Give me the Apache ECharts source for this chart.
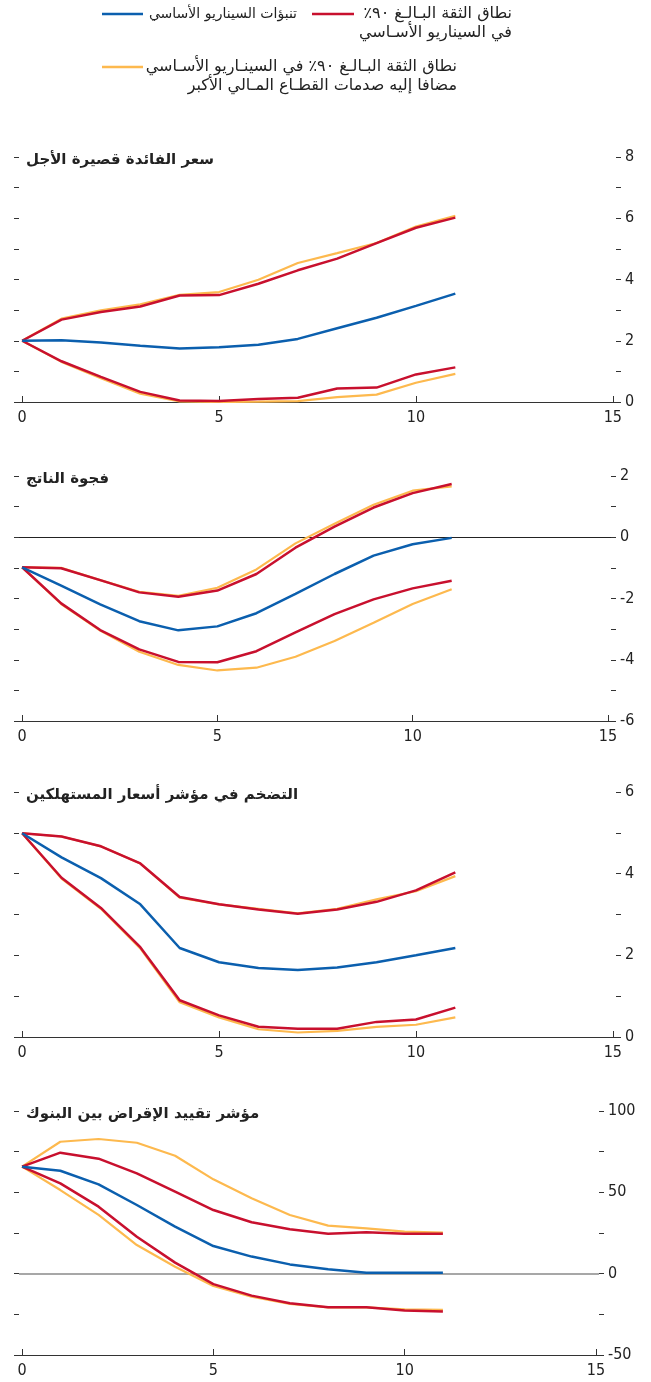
<!DOCTYPE html>
<html><head><meta charset="utf-8">
<script src="https://cdn.jsdelivr.net/npm/echarts@6/dist/echarts.min.js"></script>
<style>html,body{margin:0;padding:0;background:#fff}#c{width:651px;height:1382px}</style>
</head><body><div id="c"></div>
<script>
const steps = [0,1,2,3,4,5,6,7,8,9,10,11];
const xTickLabels = [0,5,10,15];

const panelTitles = ['سعر الفائدة قصيرة الأجل','فجوة الناتج','التضخم في مؤشر أسعار المستهلكين','مؤشر تقييد الإقراض بين البنوك'];
const legendBase = 'تنبؤات السيناريو الأساسي';
const legendBand = ['\u200Fنطاق الثقة البـالـغ ٩٠٪\u200F','في السيناريو الأسـاسي'];
const legendShock = ['\u200Fنطاق الثقة البـالـغ ٩٠٪ في السينـاريو الأسـاسي','مضافا إليه صدمات القطـاع المـالي الأكبر'];

const rateBase   = [2.0, 2.02, 1.94, 1.84, 1.75, 1.79, 1.87, 2.06, 2.41, 2.75, 3.14, 3.54];
const rateBandHi = [2.0, 2.69, 2.94, 3.12, 3.48, 3.49, 3.86, 4.30, 4.68, 5.19, 5.69, 6.02];
const rateShockHi= [2.0, 2.72, 2.99, 3.19, 3.50, 3.59, 3.99, 4.54, 4.86, 5.19, 5.73, 6.08];
const rateBandLo = [2.0, 1.33, 0.82, 0.33, 0.05, 0.03, 0.10, 0.14, 0.44, 0.47, 0.90, 1.13];
const rateShockLo= [2.0, 1.31, 0.78, 0.27, 0.02, 0.00, 0.01, 0.03, 0.16, 0.24, 0.63, 0.92];

const gapBase   = [-0.98, -1.58, -2.19, -2.74, -3.04, -2.91, -2.48, -1.85, -1.20, -0.60, -0.23, -0.02];
const gapBandHi = [-0.98, -1.01, -1.40, -1.80, -1.94, -1.74, -1.20, -0.34, 0.35, 0.97, 1.44, 1.74];
const gapShockHi= [-0.98, -1.00, -1.40, -1.78, -1.91, -1.65, -1.05, -0.20, 0.44, 1.06, 1.52, 1.66];
const gapBandLo = [-0.98, -2.16, -3.03, -3.66, -4.07, -4.08, -3.72, -3.11, -2.51, -2.03, -1.67, -1.42];
const gapShockLo= [-0.98, -2.18, -3.05, -3.74, -4.17, -4.35, -4.26, -3.90, -3.39, -2.79, -2.18, -1.70];

const cpiBase   = [4.99, 4.40, 3.89, 3.25, 2.18, 1.83, 1.69, 1.64, 1.70, 1.83, 2.00, 2.18];
const cpiBandHi = [4.99, 4.91, 4.67, 4.25, 3.43, 3.25, 3.12, 3.02, 3.12, 3.31, 3.59, 4.03];
const cpiShockHi= [4.99, 4.91, 4.67, 4.25, 3.41, 3.25, 3.14, 3.03, 3.14, 3.37, 3.57, 3.94];
const cpiBandLo = [4.99, 3.90, 3.16, 2.20, 0.90, 0.53, 0.25, 0.20, 0.20, 0.37, 0.43, 0.72];
const cpiShockLo= [4.99, 3.88, 3.14, 2.17, 0.85, 0.48, 0.19, 0.11, 0.15, 0.25, 0.30, 0.48];

const lendBase   = [65.8, 63.3, 54.9, 42.2, 28.9, 17.0, 10.5, 5.7, 2.7, 0.6, 0.6, 0.6];
const lendBandHi = [65.8, 74.4, 70.7, 61.7, 50.4, 39.1, 31.6, 27.3, 24.6, 25.4, 24.6, 24.6];
const lendShockHi= [65.8, 81.1, 82.8, 80.5, 72.5, 58.0, 46.3, 36.1, 29.5, 27.9, 25.8, 25.2];
const lendBandLo = [65.8, 55.5, 41.2, 22.7, 6.8, -6.4, -13.5, -18.2, -20.7, -20.7, -22.7, -23.2];
const lendShockLo= [65.8, 51.4, 36.1, 17.6, 4.3, -7.6, -14.1, -18.6, -20.7, -20.7, -21.9, -22.3];

const yMin = [0, -6, 0, -50];
const yMax = [8, 2, 6, 100];
const yStep = [1, 1, 1, 25];
const yLabelStep = [2, 2, 2, 50];

const panels = [
  {base: rateBase, bandHi: rateBandHi, bandLo: rateBandLo, shockHi: rateShockHi, shockLo: rateShockLo},
  {base: gapBase, bandHi: gapBandHi, bandLo: gapBandLo, shockHi: gapShockHi, shockLo: gapShockLo},
  {base: cpiBase, bandHi: cpiBandHi, bandLo: cpiBandLo, shockHi: cpiShockHi, shockLo: cpiShockLo},
  {base: lendBase, bandHi: lendBandHi, bandLo: lendBandLo, shockHi: lendShockHi, shockLo: lendShockLo}
];

const BLUE = '#0b5fae', RED = '#c8102e', YEL = '#fdb94e';
const numFont = "'Liberation Sans Narrow','DejaVu Sans Condensed','Liberation Sans',sans-serif";
const arFont = "'DejaVu Sans',sans-serif";

const layout = [
  {top: 157, height: 245, width: 597},
  {top: 476, height: 245, width: 592},
  {top: 792, height: 245, width: 597},
  {top: 1111, height: 244, width: 580}
];
const zeroLine = [null, {color:'#222', width:1}, null, {color:'#8a8a8a', width:1.5}];

const grid = [], xAxis = [], yAxis = [], series = [], graphic = [];
const toXY = arr => steps.map((x,i)=>[x, arr[i]]);

panels.forEach((p, k) => {
  const L = layout[k];
  grid.push({left: 19, top: L.top, width: L.width, height: L.height, containLabel: false});
  xAxis.push({
    type: 'value', gridIndex: k, min: -0.08, max: 15.08,
    axisLine: {show: true, onZero: false, lineStyle: {color: '#333', width: 1.2}},
    axisTick: {show: true, inside: true, length: 6, customValues: xTickLabels, lineStyle: {color: '#333'}},
    axisLabel: {show: true, customValues: xTickLabels, margin: 8, fontFamily: numFont, fontSize: 16, color: '#222'},
    splitLine: {show: false}
  });
  const common = {type: 'value', gridIndex: k, min: yMin[k], max: yMax[k], interval: yStep[k],
    splitLine: {show: false}};
  yAxis.push(Object.assign({}, common, {
    position: 'right',
    axisLine: {show: false, onZero: false},
    axisTick: {show: true, inside: false, length: 5, lineStyle: {color: '#333'}},
    axisLabel: {show: true, margin: 9, fontFamily: numFont, fontSize: 16, color: '#222',
      formatter: v => (Math.round(v) % yLabelStep[k] === 0 ? String(v) : '')}
  }));
  yAxis.push(Object.assign({}, common, {
    position: 'left',
    axisLine: {show: false, onZero: false},
    axisTick: {show: true, inside: false, length: 5, lineStyle: {color: '#333'}},
    axisLabel: {show: false}
  }));
  const yi = k * 2;
  const mk = (name, arr, color, w, z) => ({
    type: 'line', name, xAxisIndex: k, yAxisIndex: yi, data: toXY(arr),
    symbol: 'none', lineStyle: {color, width: w}, z, silent: true, animation: false
  });
  const s0 = mk('shockHi', p.shockHi, YEL, 2.2, 2);
  if (zeroLine[k]) {
    s0.markLine = {silent: true, symbol: 'none', label: {show: false},
      lineStyle: {color: zeroLine[k].color, width: zeroLine[k].width, type: 'solid'},
      data: [{yAxis: 0}], z: 1};
  }
  series.push(s0);
  series.push(mk('shockLo', p.shockLo, YEL, 2.2, 2));
  series.push(mk('bandHi', p.bandHi, RED, 2.5, 3));
  series.push(mk('bandLo', p.bandLo, RED, 2.5, 3));
  series.push(mk('base', p.base, BLUE, 2.5, 4));
  graphic.push({type: 'text', left: 26, top: L.top - 4,
    style: {text: panelTitles[k], font: 'bold 15px ' + arFont, fill: '#222'}});
});

// legend
const lg = (x1, x2, y, c) => ({type: 'line', shape: {x1, y1: y, x2, y2: y}, style: {stroke: c, lineWidth: 2.5}});
const lt = (x, y, t, fs) => ({type: 'text', x, y, style: {text: t, font: (fs || 16) + 'px ' + arFont, fill: '#222', align: 'right', verticalAlign: 'middle'}});
graphic.push(lg(102, 143, 14, BLUE));
graphic.push(lt(297, 14, legendBase, 14));
graphic.push(lg(312, 354, 14, RED));
graphic.push(lt(512, 14, legendBand[0]));
graphic.push(lt(512, 33, legendBand[1]));
graphic.push(lg(102, 143, 67, YEL));
graphic.push(lt(457, 67, legendShock[0]));
graphic.push(lt(457, 86, legendShock[1]));

const chart = echarts.init(document.getElementById('c'), null, {renderer: 'canvas'});
chart.setOption({animation: false, grid, xAxis, yAxis, series, graphic});
</script></body></html>
